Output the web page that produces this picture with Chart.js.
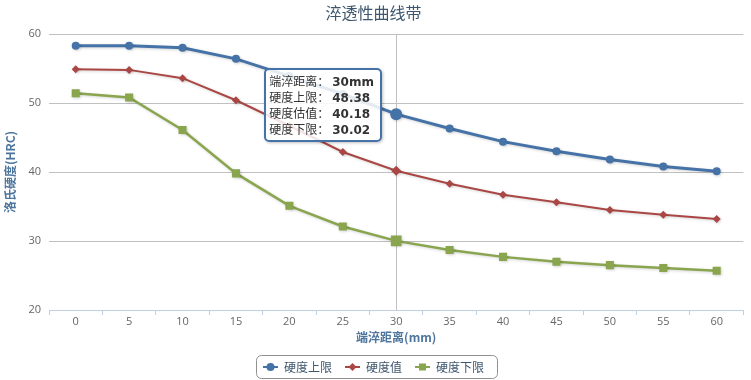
<!DOCTYPE html>
<html>
<head>
<meta charset="utf-8">
<script src="https://cdn.jsdelivr.net/npm/chart.js@4.4.1/dist/chart.umd.min.js"></script>
<style>
  html, body { margin: 0; padding: 0; overflow: hidden; background: #fff; }
  #wrap { position: relative; width: 751px; height: 380px; }
  #tip {
    position: absolute; pointer-events: none;
    background: rgba(255,255,255,0.85);
    border: 2px solid #4572A7; border-radius: 5px;
    padding: 3px 6px 3px 3px;
    box-shadow: 1px 1px 3px rgba(0,0,0,0.25);
    font: 12px "Noto Sans CJK SC", sans-serif; line-height: 16px; color: #333;
    white-space: nowrap;
  }
  #tip b { font: bold 12px "DejaVu Sans", sans-serif; margin-left: 3px; color: #333; }
</style>
</head>
<body>
<div id="wrap"><canvas id="c" width="751" height="380"></canvas><div id="tip"></div></div>
<script>
// ---- data ----
const categories = ['0','5','10','15','20','25','30','35','40','45','50','55','60'];
const upperLimit = [58.3, 58.3, 58.0, 56.4, 53.9, 51.3, 48.38, 46.3, 44.4, 43.0, 41.8, 40.8, 40.1];
const estimate   = [54.9, 54.8, 53.6, 50.4, 46.7, 42.9, 40.18, 38.3, 36.7, 35.6, 34.5, 33.8, 33.2];
const lowerLimit = [51.4, 50.8, 46.1, 39.8, 35.1, 32.1, 30.02, 28.7, 27.7, 27.0, 26.5, 26.1, 25.7];
const seriesNames = ['硬度上限', '硬度值', '硬度下限'];
const tipNames = ['硬度上限', '硬度估值', '硬度下限'];
const yTicks = [20, 30, 40, 50, 60];
const activeIndex = 6;

const colors = ['#4572A7', '#AA4643', '#89A54E'];
const cjk = '"Noto Sans CJK SC", sans-serif';
const num = '"Open Sans", "Noto Sans CJK SC", sans-serif';

function makeSym(color, style) {
  const c = document.createElement('canvas');
  c.width = 15; c.height = 10;
  const g = c.getContext('2d');
  g.strokeStyle = color; g.fillStyle = color; g.lineWidth = 2;
  g.beginPath(); g.moveTo(0, 5); g.lineTo(15, 5); g.stroke();
  g.beginPath();
  if (style === 'circle') { g.arc(7.5, 5, 4, 0, Math.PI * 2); }
  else if (style === 'diamond') { g.moveTo(7.5, 1); g.lineTo(11.5, 5); g.lineTo(7.5, 9); g.lineTo(3.5, 5); g.closePath(); }
  else { g.rect(4, 1.5, 7, 7); }
  g.fill();
  return c;
}
const syms = [makeSym(colors[0], 'circle'), makeSym(colors[1], 'diamond'), makeSym(colors[2], 'square')];

const shadowPlugin = {
  id: 'shadow',
  beforeDatasetDraw(chart) {
    const ctx = chart.ctx; ctx.save();
    ctx.shadowColor = 'rgba(0,0,0,0.18)'; ctx.shadowBlur = 3;
    ctx.shadowOffsetX = 1; ctx.shadowOffsetY = 1;
  },
  afterDatasetDraw(chart) { chart.ctx.restore(); }
};

const crosshairPlugin = {
  id: 'crosshair',
  beforeDatasetsDraw(chart) {
    const ctx = chart.ctx, a = chart.chartArea;
    const x = Math.round(chart.scales.x.getPixelForValue(activeIndex)) + 0.5;
    ctx.save(); ctx.strokeStyle = '#C0C0C0'; ctx.lineWidth = 1;
    ctx.beginPath(); ctx.moveTo(x, a.top); ctx.lineTo(x, a.bottom); ctx.stroke();
    ctx.restore();
  }
};

const legendBorderPlugin = {
  id: 'legendBorder',
  afterDraw(chart) {
    const hb = chart.legend.legendHitBoxes;
    if (!hb || !hb.length) return;
    const first = hb[0], last = hb[hb.length - 1];
    const cy = first.top + first.height / 2;
    const x0 = Math.round(first.left - 7) + 0.5;
    const x1 = Math.round(last.left + last.width + 13) + 0.5;
    const y0 = Math.round(cy - 12) + 0.5, y1 = Math.round(cy + 11) + 0.5;
    const ctx = chart.ctx;
    ctx.save(); ctx.strokeStyle = '#909090'; ctx.lineWidth = 1;
    ctx.beginPath(); ctx.roundRect(x0, y0, x1 - x0, y1 - y0, 5); ctx.stroke();
    ctx.restore();
  }
};

function ds(label, data, color, style, r, hr, lw) {
  return {
    label, data, borderColor: color, backgroundColor: color, borderWidth: lw,
    pointStyle: style, pointRadius: r, pointHoverRadius: hr,
    pointBackgroundColor: color, pointHoverBackgroundColor: color,
    pointBorderWidth: 0, pointHoverBorderWidth: 0, tension: 0
  };
}

const chart = new Chart(document.getElementById('c'), {
  type: 'line',
  data: {
    labels: categories,
    datasets: [
      ds(seriesNames[0], upperLimit, colors[0], 'circle', 4, 6, 3),
      ds(seriesNames[1], estimate, colors[1], 'rectRot', 4, 5, 2),
      ds(seriesNames[2], lowerLimit, colors[2], 'rect', 5.7, 7.6, 2.5)
    ]
  },
  options: {
    responsive: false, animation: false, events: [],
    layout: { padding: { top: 0, left: 0, right: 4, bottom: -3 } },
    interaction: { mode: 'index', intersect: false },
    plugins: {
      title: {
        display: true, text: '淬透性曲线带', color: '#3E576F',
        font: { family: cjk, size: 16, weight: 'normal' },
        padding: { top: 3, bottom: 11.8 }
      },
      legend: {
        position: 'bottom',
        labels: {
          usePointStyle: true, pointStyleWidth: 15, padding: 13,
          color: '#3E576F', font: { family: cjk, size: 12 },
          generateLabels: (ch) => ch.data.datasets.map((d, i) => ({
            text: d.label, pointStyle: syms[i], fillStyle: colors[i], strokeStyle: colors[i],
            lineWidth: 0, hidden: false, datasetIndex: i, fontColor: '#3E576F'
          }))
        }
      },
      tooltip: {
        enabled: false, mode: 'index', intersect: false,
        external: ({ chart, tooltip }) => {
          const el = document.getElementById('tip');
          const dp = tooltip.dataPoints;
          if (!dp || !dp.length) { el.style.display = 'none'; return; }
          const i = dp[0].dataIndex;
          let html = '端淬距离：<b>' + categories[i] + 'mm</b>';
          dp.forEach(p => {
            html += '<br>' + tipNames[p.datasetIndex] + '：<b>' + p.raw.toFixed(2) + '</b>';
          });
          el.innerHTML = html;
          el.style.display = 'block';
          const pt = dp[0].element;
          el.style.left = (pt.x - 14 - el.offsetWidth) + 'px';
          el.style.top = (pt.y - 46) + 'px';
        }
      }
    },
    scales: {
      x: {
        type: 'category', offset: true,
        grid: { offset: true, drawOnChartArea: false, drawTicks: true, tickLength: 5, color: '#C0D0E0' },
        border: { color: '#C0D0E0', width: 1 },
        ticks: { padding: 0, color: '#666', font: { family: num, size: 11 }, maxRotation: 0 },
        title: { display: true, text: '端淬距离(mm)', color: '#4d759e',
          font: { family: cjk, size: 12, weight: 'bold' }, padding: { top: 0, bottom: 3 } },
        afterFit: (s) => { s.height = 38; }
      },
      y: {
        min: 20, max: 60,
        afterBuildTicks: (s) => { s.ticks = yTicks.map(v => ({ value: v })); },
        grid: { color: '#C0C0C0', drawTicks: false },
        border: { display: false },
        ticks: { padding: 8, color: '#666', font: { family: num, size: 11 } },
        title: { display: true, text: '洛氏硬度(HRC)', color: '#4d759e',
          font: { family: cjk, size: 12, weight: 'bold' }, padding: { top: 3, bottom: 0 } },
        afterFit: (s) => { s.width = 49; }
      }
    }
  },
  plugins: [shadowPlugin, crosshairPlugin, legendBorderPlugin]
});

const act = [0, 1, 2].map(d => ({ datasetIndex: d, index: activeIndex }));
chart.setActiveElements(act);
const p0 = chart.getDatasetMeta(0).data[activeIndex];
chart.tooltip.setActiveElements(act, { x: p0.x, y: p0.y });
chart.update();
</script>
</body>
</html>
